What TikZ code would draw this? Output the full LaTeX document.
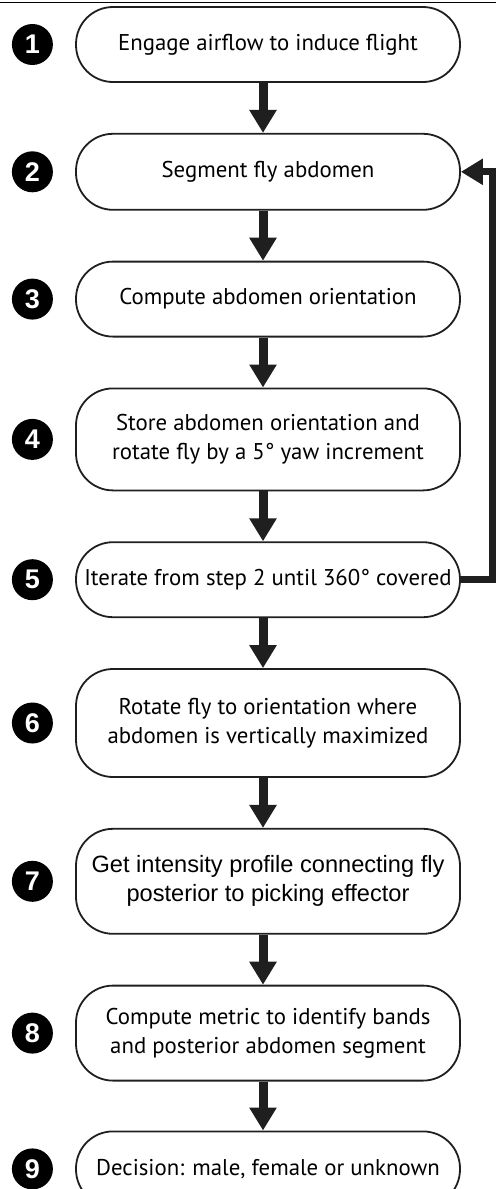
\documentclass[tikz,border=0pt]{standalone}
\usepackage{fontspec}
\setmainfont{PT Sans}
\newfontfamily\arialfont{Liberation Sans}
\usetikzlibrary{positioning,arrows.meta}
\begin{document}
\begin{tikzpicture}[x=1pt,y=1pt]
\tikzstyle{stepbox}=[draw=black!88,line width=1.8pt,rounded corners=37pt,minimum width=384pt,align=center,inner sep=0pt,font=\fontsize{22.8}{29}\selectfont]
\tikzstyle{numdot}=[circle,fill=black,minimum size=41pt,inner sep=0pt,text=white,font=\arialfont\bfseries\fontsize{27}{27}\selectfont]
\tikzstyle{flow}=[draw=black!88,line width=9pt,-{Triangle[width=26pt,length=23pt]}]
\useasboundingbox (0,0) rectangle (496,-1189);
\draw[line width=1pt] (0,-2) -- (496,-2);
\node[stepbox,minimum height=75pt] (s1) at (268,-44.5) {Engage airflow to induce flight};
\node[stepbox,minimum height=76pt,below=50pt of s1] (s2) {Segment fly abdomen};
\node[stepbox,minimum height=75pt,below=50pt of s2] (s3) {Compute abdomen orientation};
\node[stepbox,minimum height=102pt,below=50pt of s3] (s4) {Store abdomen orientation and\\rotate fly by a 5° yaw increment};
\node[stepbox,minimum height=75pt,below=50pt of s4] (s5) {Iterate from step 2 until 360° covered};
\node[stepbox,minimum height=108pt,below=50pt of s5] (s6) {Rotate fly to orientation where\\abdomen is vertically maximized};
\node[stepbox,minimum height=105pt,below=50pt of s6,font=\arialfont\fontsize{23.6}{29}\selectfont] (s7) {Get intensity profile connecting fly\\posterior to picking effector};
\node[stepbox,minimum height=95pt,below=50pt of s7] (s8) {Compute metric to identify bands\\and posterior abdomen segment};
\node[stepbox,minimum height=75pt,below=49pt of s8] (s9) {Decision: male, female or unknown};
\foreach \i in {1,...,9}
  \node[numdot,left=22pt of s\i] (n\i) {\i};
\foreach \a/\b in {s1/s2,s2/s3,s3/s4,s4/s5,s5/s6,s6/s7,s7/s8,s8/s9}
  \draw[flow] ([xshift=-5pt]\a.south) -- ([xshift=-5pt]\b.north);
\draw[flow,line width=7pt,-{Triangle[width=25pt,length=22pt]}] (s5.east) -- ++(32pt,0) |- (s2.east);
\end{tikzpicture}
\end{document}
